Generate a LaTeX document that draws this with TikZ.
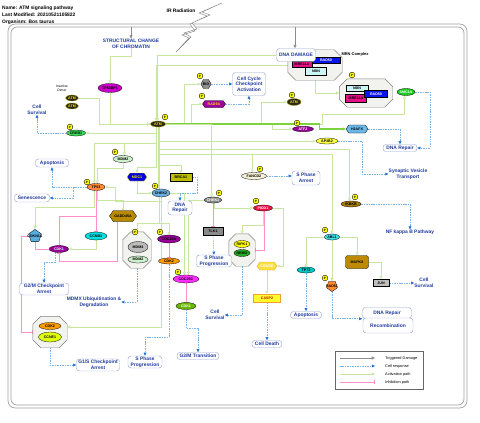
\documentclass[tikz,border=0pt]{standalone}
\usepackage{fontspec}
\setmainfont{Liberation Sans}
\usetikzlibrary{arrows.meta,shapes.geometric,shapes.symbols,backgrounds,positioning}

\definecolor{actgreen}{HTML}{C8E6A0}
\definecolor{actthick}{HTML}{7DD33F}
\definecolor{inhpink}{HTML}{FF8FCF}
\definecolor{rspblue}{HTML}{7AB4E8}
\definecolor{rsptip}{HTML}{1F6FD0}
\definecolor{triggray}{HTML}{8C8C8C}
\definecolor{respedge}{HTML}{9AA8D0}
\definecolor{resptext}{HTML}{1E3A9A}
\definecolor{cplxfill}{HTML}{F2F2EE}
\definecolor{phosyellow}{HTML}{FFFF00}
\definecolor{framegray}{HTML}{A0A0A0}
\definecolor{tpbp}{HTML}{CC00CC}
\definecolor{atmdark}{HTML}{2B2B14}
\definecolor{atmtext}{HTML}{F2E200}
\definecolor{crebgreen}{HTML}{3CDC5A}
\definecolor{bidgray}{HTML}{8E8E8E}
\definecolor{radpurple}{HTML}{A000A0}
\definecolor{atfpurple}{HTML}{990099}
\definecolor{mrepink}{HTML}{E8108A}
\definecolor{radblue}{HTML}{0A14EE}
\definecolor{nbncyan}{HTML}{CCF5F5}
\definecolor{smcgreen}{HTML}{1ECC1E}
\definecolor{h2ablue}{HTML}{6BB8E8}
\definecolor{apyellow}{HTML}{FFFF40}
\definecolor{ikbrown}{HTML}{A87A00}
\definecolor{ablcyan}{HTML}{3EE0E8}
\definecolor{mapkbrown}{HTML}{BE8A00}
\definecolor{jungray}{HTML}{BEBEBE}
\definecolor{radorange}{HTML}{FF8A30}
\definecolor{tpteal}{HTML}{00C8C8}
\definecolor{caspyellow}{HTML}{FFFF30}
\definecolor{casporange}{HTML}{F0A030}
\definecolor{craddyellow}{HTML}{F8E040}
\definecolor{piddred}{HTML}{EE1144}
\definecolor{nemogreen}{HTML}{22AA22}
\definecolor{chekgray}{HTML}{8A8A8A}
\definecolor{fancbeige}{HTML}{F5F0D5}
\definecolor{brcaolive}{HTML}{BDBD00}
\definecolor{cdcpurple}{HTML}{960096}
\definecolor{cdkorange}{HTML}{FF9A00}
\definecolor{cdcmagenta}{HTML}{FF2EFF}
\definecolor{cdkgreen}{HTML}{66B800}
\definecolor{mdmgray}{HTML}{BBBBBB}
\definecolor{mdmgreen}{HTML}{CDEFCD}
\definecolor{tporange}{HTML}{FF8A3A}
\definecolor{mdcblue}{HTML}{0000DD}
\definecolor{chekblue}{HTML}{6AAEDD}
\definecolor{gaddbrown}{HTML}{B88A00}
\definecolor{cdknblue}{HTML}{58AEE0}
\definecolor{ccnbcyan}{HTML}{00E0E0}
\definecolor{ccnelime}{HTML}{E0FF10}

\newcommand{\genefont}{\fontsize{3.1}{3.5}\selectfont\bfseries}
\newcommand{\respfont}{\fontsize{4.2}{4.8}\selectfont\bfseries}
\newcommand{\headfont}{\fontsize{4.2}{4.8}\selectfont\bfseries}
% octagon outline round a complex node
\newcommand{\cplxoct}[2]{\draw[draw=gray,fill=cplxfill,line width=0.4pt]
  ([xshift=#2]#1.north west) -- ([xshift=-#2]#1.north east) -- ([yshift=-#2]#1.north east) -- ([yshift=#2]#1.south east)
  -- ([xshift=-#2]#1.south east) -- ([xshift=#2]#1.south west) -- ([yshift=#2]#1.south west) -- ([yshift=-#2]#1.north west) -- cycle;}

\begin{document}
\begin{tikzpicture}[x=0.03cm,y=-0.03cm]
      \tikzset{sz/.style 2 args={minimum width=#1*0.03cm,minimum height=#2*0.03cm}}
      \tikzset{gene/.style={draw=black,line width=0.25pt,inner sep=0pt,font=\genefont}}
      \tikzset{oval/.style={gene,ellipse}}
      \tikzset{box/.style={gene,rectangle}}
      \tikzset{hexa/.style={gene,signal,signal to=east and west,signal pointer angle=110}}
      \tikzset{penta/.style={gene,regular polygon,regular polygon sides=5}}
      \tikzset{cplx/.style={rectangle,inner sep=0pt}}
      \tikzset{phos/.style={circle,draw=black,fill=phosyellow,line width=0.3pt,inner sep=0pt,minimum size=0.17cm,font=\fontsize{2.6}{3}\selectfont\bfseries}}
      \tikzset{resp/.style={draw=respedge,fill=white,rounded corners=2.5pt,line width=0.4pt,font=\respfont,text=resptext,align=center,inner sep=0pt}}
      \tikzset{lbl/.style={font=\respfont,text=resptext,align=center,inner sep=0pt}}
      \tikzset{head/.style={font=\headfont,inner sep=0pt}}
      \tikzset{legtext/.style={font=\fontsize{3.3}{4}\selectfont,inner sep=0pt,anchor=west}}
      \tikzset{act/.style={draw=actgreen,line width=0.5pt,-{Triangle[open,length=2.6pt,width=2.6pt]}}}
      \tikzset{actbold/.style={act,draw=actthick,line width=0.9pt}}
      \tikzset{inh/.style={draw=inhpink,line width=0.6pt,-{Bar[width=3.4pt]}}}
      \tikzset{rsp/.style={draw=rspblue,line width=0.45pt,dash pattern=on 1.3pt off 0.8pt,-{Triangle[length=2.6pt,width=2.4pt,color=rsptip]}}}
      \tikzset{trig/.style={draw=triggray,line width=0.5pt,-{Triangle[length=2.8pt,width=2.6pt,color=triggray]}}}

      \useasboundingbox (0,0) rectangle (480,422);

      % header
      \node[head,anchor=west] (name) at (2,8) {Name: ATM signaling pathway};
      \node[head,anchor=west] (modified) at (2,15) {Last Modified: 20210521105822};
      \node[head,anchor=west] (organism) at (2,22) {Organism: Bos taurus};
      \node[head] (irrad) at (181,11) {IR Radiation};
      \coordinate (trigA) at (131,27);
      \coordinate (trigB) at (295,27);

      % complexes
      \node[cplx,sz={54}{30}] (mrnA) at (315,65) {};
      \cplxoct{mrnA}{0.24cm}
      \node[box,sz={28}{6},fill=radblue,text=white] (radA) at (326,60) {RAD50};
      \node[box,sz={21}{8},fill=nbncyan] (nbnA) at (316,71) {NBN};
      \node[box,sz={20}{6},fill=mrepink] (mreA) at (302,64) {MRE11A};
      \node[head,font=\fontsize{3.4}{4}\selectfont\bfseries] (mrnlabel) at (355,54) {MRN Complex};
      \node[cplx,sz={53}{28}] (mrnB) at (366,93) {};
      \cplxoct{mrnB}{0.24cm}
      \node[box,sz={22}{6},fill=nbncyan] (nbnB) at (357,88) {NBN};
      \node[box,sz={21}{8},fill=mrepink] (mreB) at (356,98) {MRE11A};
      \node[box,sz={23}{7},fill=radblue,text=white] (radB) at (376,94) {RAD50};
      \node[cplx,sz={28}{36}] (mdmcplx) at (137,250) {};
      \cplxoct{mdmcplx}{0.24cm}
      \node[oval,sz={20}{11},fill=mdmgray] (mdm4) at (138,247) {MDM4};
      \node[oval,sz={20}{7},fill=mdmgreen] (mdm2b) at (138,259.5) {MDM2};
      \node[cplx,sz={26}{32}] (ripkcplx) at (242,250) {};
      \cplxoct{ripkcplx}{0.21cm}
      \node[oval,sz={16}{7},fill=phosyellow] (ripk1) at (242,244) {RIPK1};
      \node[oval,sz={16}{7},fill=nemogreen] (nemo) at (242,253) {NEMO};
      \node[cplx,sz={34}{31}] (cdk2cplx) at (50,332) {};
      \cplxoct{cdk2cplx}{0.24cm}
      \node[oval,sz={22}{7},fill=cdkorange] (cdk2b) at (50,326) {CDK2};
      \node[oval,sz={23}{10},fill=ccnelime] (ccne1) at (50,337) {CCNE1};

      % responses
      \node[lbl,font=\fontsize{4.2}{4.9}\selectfont\bfseries] (chromatin) at (131,43.5) {STRUCTURAL CHANGE\\OF CHROMATIN};
      \node[resp,sz={39}{13}] (dnadamage) at (296,55) {DNA DAMAGE};
      \node[resp,sz={33}{23}] (cellcycle) at (249,84) {Cell Cycle\\Checkpoint\\Activation};
      \node[lbl] (survivalA) at (37,110) {Cell\\Survival};
      \node[resp,sz={33}{8}] (apoptosisA) at (52,163) {Apoptosis};
      \node[resp,sz={35}{8}] (senescence) at (32,198) {Senescence};
      \node[resp,sz={24}{14}] (dnarepairA) at (180,208) {DNA\\Repair};
      \node[resp,sz={28}{14}] (sarrest) at (306,178) {S Phase\\Arrest};
      \node[resp,sz={34}{7}] (dnarepairB) at (400,148) {DNA Repair};
      \node[lbl] (synaptic) at (408,174) {Synaptic Vesicle\\Transport};
      \node[lbl] (nfkb) at (410,232) {NF kappa B Pathway};
      \node[resp,sz={35}{12}] (sprogA) at (214,261) {S Phase\\Progression};
      \node[lbl] (survivalB) at (215,315) {Cell\\Survival};
      \node[resp,sz={30}{7}] (celldeath) at (267,344) {Cell Death};
      \node[resp,sz={31}{7}] (apoptosisB) at (306,315) {Apoptosis};
      \node[resp,sz={49}{11}] (dnarepairC) at (387,313) {DNA Repair};
      \node[resp,sz={50}{15}] (recomb) at (388,325.5) {Recombination};
      \node[lbl] (survivalC) at (424,283) {Cell\\Survival};
      \node[resp,sz={49}{12}] (gtwomarrest) at (44,289) {G2/M Checkpoint\\Arrest};
      \node[lbl] (mdmx) at (94,302) {MDMX Ubiquitination \&\\Degradation};
      \node[resp,sz={43}{12}] (gonesarrest) at (98,365) {G1/S Checkpoint\\Arrest};
      \node[resp,sz={34}{12}] (sprogB) at (145,362) {S Phase\\Progression};
      \node[resp,sz={42}{7}] (gtwomtrans) at (198,356) {G2/M Transition};

      % genes
      \node[oval,sz={24}{9},fill=tpbp] (tp53bp1) at (110,88) {TP53BP1};
      \node[inner sep=0pt,align=center,font=\fontsize{2.9}{3.3}\selectfont] (inactive) at (62,88) {Inactive\\Dimer};
      \node[oval,sz={13}{6},fill=atmdark,draw=atmtext!70!black,text=atmtext] (atmA) at (72,98) {ATM};
      \node[oval,sz={13}{6},fill=atmdark,draw=atmtext!70!black,text=atmtext] (atmB) at (72,106) {ATM};
      \node[oval,sz={15}{6},fill=atmdark,draw=atmtext!70!black,text=atmtext] (atm) at (158,124) {ATM};
      \node[oval,sz={19}{6},fill=crebgreen] (creb1) at (76,133) {CREB1};
      \node[gene,regular polygon,regular polygon sides=6,minimum size=0.3cm,fill=bidgray] (bid) at (206,84) {BID};
      \node[hexa,sz={23}{7},fill=radpurple,text=atmtext] (rad9a) at (214,104) {RAD9A};
      \node[oval,sz={14}{7},fill=atmdark,draw=atmtext!70!black,text=atmtext] (atmC) at (294,102) {ATM};
      \node[oval,sz={21}{5.5},fill=atfpurple,text=white] (atf2) at (303,129) {ATF2};
      \node[oval,sz={18}{7},fill=smcgreen,text=white] (smc1a) at (406,92) {SMC1A};
      \node[hexa,sz={22}{8},fill=h2ablue] (h2afx) at (357,129) {H2AFX};
      \node[oval,sz={22}{6},fill=apyellow] (ap3b2) at (327,141) {AP3B2};
      \node[oval,sz={20}{6},fill=ikbrown] (ikbkb) at (351,204) {IKBKB};
      \node[oval,sz={15}{6},fill=ablcyan] (abl1) at (332,237) {ABL1};
      \node[box,rounded corners=2pt,sz={23}{13},fill=mapkbrown] (mapk8) at (357,262) {MAPK8};
      \node[box,sz={16}{7},fill=jungray] (jun) at (381,283) {JUN};
      \node[penta,minimum size=0.34cm,shape border rotate=180,fill=radorange,label={[font=\genefont]center:RAD51}] (rad51) at (332,286) {};
      \node[oval,sz={18}{6},fill=tpteal] (tp73) at (306,270) {TP73};
      \node[box,sz={27}{8},fill=caspyellow,draw=casporange,text=red!80!black] (casp2) at (267,298) {CASP2};
      \node[hexa,sz={20}{8},fill=craddyellow,draw=casporange,text=white] (cradd) at (267,266) {CRADD};
      \node[oval,sz={19}{6},fill=piddred,text=white] (pidd1) at (263,208) {PIDD1};
      \node[oval,sz={17}{6},fill=chekgray,text=white] (chek1) at (213,200) {CHEK1};
      \node[box,sz={20}{8},fill=chekgray] (tlk1) at (213,231) {TLK1};
      \node[oval,sz={25}{7},fill=fancbeige] (fancd2) at (254,176) {FANCD2};
      \node[box,sz={22}{8},fill=brcaolive] (brca1) at (181,177) {BRCA1};
      \node[oval,sz={20}{7},fill=mdmgreen] (mdm2) at (123,159) {MDM2};
      \node[oval,sz={18}{7},fill=tporange] (tp53) at (96,187) {TP53};
      \node[hexa,sz={20}{8},fill=mdcblue,draw=atmtext,text=atmtext] (mdc1) at (137,177) {MDC1};
      \node[oval,sz={18}{8},fill=chekblue] (chek2) at (161,193) {CHEK2};
      \node[hexa,sz={27}{11},fill=gaddbrown] (gadd45a) at (123,216) {GADD45A};
      \node[penta,minimum size=0.4cm,fill=cdknblue,label={[font=\genefont]center:CDKN1A}] (cdkn1a) at (35,236) {};
      \node[oval,sz={22}{8},fill=ccnbcyan] (ccnb1) at (96,236) {CCNB1};
      \node[oval,sz={19}{7},fill=atfpurple,text=white] (cdk1a) at (59,249) {CDK1};
      \node[oval,sz={23}{8},fill=cdcpurple] (cdc25a) at (169,239) {CDC25A};
      \node[oval,sz={21}{6},fill=cdkorange] (cdk2a) at (169,261) {CDK2};
      \node[oval,sz={26}{8},fill=cdcmagenta] (cdc25c) at (186,279) {CDC25C};
      \node[oval,sz={20}{7},fill=cdkgreen,text=white] (cdk1b) at (186,306) {CDK1};

      % phosphorylation marks
      \node[phos] (patm) at (165,117) {P};
      \node[phos] (pcreb1) at (70,127) {P};
      \node[phos] (pbid) at (200,76) {P};
      \node[phos] (prad9a) at (202,96) {P};
      \node[phos] (patmC) at (292,95) {P};
      \node[phos] (patf2) at (297,123) {P};
      \node[phos] (pmrnB) at (352,75) {P};
      \node[phos] (pmdm2) at (115,152) {P};
      \node[phos] (ptp53) at (87,182) {P};
      \node[phos] (pchek2) at (155,186) {P};
      \node[phos] (pmdmcplx) at (135,232) {P};
      \node[phos] (pcdc25a) at (160,232) {P};
      \node[phos] (pcdc25c) at (178,272) {P};
      \node[phos] (pchek1) at (219,193) {P};
      \node[phos] (ppidd1) at (256,201) {P};
      \node[phos] (pfancd2) at (260,169) {P};
      \node[phos] (pikbkb) at (355,197) {P};
      \node[phos] (pabl1) at (325,230) {P};
      \node[phos] (prad51) at (325,278) {P};

      % legend
      \node[draw=gray!80!black,line width=0.4pt,fill=white,sz={88}{38},inner sep=0pt] (legend) at (379,370) {};
      \coordinate (lgA1) at (340,358); \coordinate (lgA2) at (375,358);
      \coordinate (lgB1) at (340,366); \coordinate (lgB2) at (375,366);
      \coordinate (lgC1) at (340,374); \coordinate (lgC2) at (375,374);
      \coordinate (lgD1) at (340,382); \coordinate (lgD2) at (375,382);
      \node[legtext] (lgtA) at (385,358) {Triggered Damage};
      \node[legtext] (lgtB) at (385,366) {Cell response};
      \node[legtext] (lgtC) at (385,374) {Activation path};
      \node[legtext] (lgtD) at (385,382) {Inhibition path};
      \draw[trig] (lgA1) -- (lgA2);
      \draw[rsp] (lgB1) -- (lgB2);
      \draw[act] (lgC1) -- (lgC2);
      \draw[inh] (lgD1) -- (lgD2);

      \begin{scope}[on background layer]
      % frame and bolt
      \draw[framegray,line width=0.6pt,rounded corners=2.2mm] (8,24) rectangle (467,408);
      \draw[framegray,line width=0.6pt,rounded corners=1.8mm] (11,27) rectangle (464,405);
      \draw[gray,line width=0.35pt,fill=white] (222,3) -- (202,12) -- (210,15) -- (192,23) -- (197,29) -- (184,33) -- (191,37) -- (176,52)
        -- (189,38) -- (182,35) -- (195,31) -- (190,24) -- (207,16) -- (199,13) -- cycle;

      % triggered damage
      \draw[trig] (trigA) -- (trigA |- chromatin.north);
      \draw[trig] (trigB) -- (trigB |- dnadamage.north);

      % activation
      \draw[act] (chromatin.south) -- ++(0,8) -| (tp53bp1.north);
      \draw[act] (atmA.east) -- ++(21,0) |- (atm.west);
      \draw[act] (tp53bp1.south) |- (atm.west);
      \draw[act] (dnadamage.west) -| (atm.95);
      \draw[act] (mrnA.west) -| (atm.125);
      \draw[act] (atm.east) -- ++(19,0) |- (bid.west);
      \draw[act] (atm.east) -- ++(26,0) |- (rad9a.west);
      \draw[act] (atm.east) -- ++(96,0) |- (atmC.west);
      \draw[act] (atm.east) -- ++(107,0) |- (atf2.west);
      \draw[act] (atm.east) -- ++(157,0) -- ++(0,-10) -| (smc1a.250);
      \draw[actbold] (atm.east) -- ++(154,0) |- (h2afx.west);
      \draw[act] (mrnA.south) |- (mrnB.west);
      \draw[act] (atm.235) |- (creb1.east);
      \draw[act] (atm.235) -- ++(0,16) -| (tp53.115);
      \draw[act] (atm.235) -- ++(0,16) -| (mdm2.70);
      \draw[act] (atm.235) -- ++(0,40) -| (mdc1.north);
      \draw[act] (mdm2.south) -- ++(0,6) -| (tp53.70);
      \draw[act] (mdc1.south) |- (chek2.west);
      \draw[act] (atm.south) -- (atm.south |- chek2.north);
      \draw[act] (chek2.south) |- (115,201) |- (tp53.east);
      \draw[act] (atm.300) -- ++(0,96) -| (mdmcplx.north);
      \draw[act] (atm.300) -- ++(0,96) -| (cdc25a.north);
      \draw[act] (chek2.south) |- ([yshift=0.15cm]cdk2cplx.east);
      \draw[act] (atm.290) -- ++(0,38) -| (brca1.north);
      \draw[act] (atm.290) -- ++(0,27) -| (fancd2.115);
      \draw[act] (atm.290) -- ++(0,27) -| (abl1.north);
      \draw[act] (atm.290) -- ++(0,22) -| (ikbkb.115);
      \draw[act] (atm.290) |- (ap3b2.west);
      \draw[act] (atm.east) -| (chek1.115);
      \draw[act] (chek2.east) -| (cdc25c.110);
      \draw[act] (chek1.west) -| (cdc25c.60);
      \draw[act,-{Circle[open,length=2.4pt]}] (tp53.290) -- ++(0,10) -| (gadd45a.north);
      \draw[act] (tp53.250) -- ++(0,17) -| (cdkn1a.north);
      \draw[act] (ccnb1.south) |- (cdk1a.east);
      \draw[act] (chek1.300) |- (pidd1.west);
      \draw[act] (pidd1.south) -- ++(0,14) -| (ripkcplx.north);
      \draw[act] (pidd1.east) -- ++(11,0) |- (cradd.east);
      \draw[act] (cradd.south) -- (casp2.north);
      \draw[act] (abl1.east) -| (mapk8.north);
      \draw[act] (abl1.west) -| (tp73.north);
      \draw[act] (abl1.south) -- (rad51.north);
      \draw[act] (mapk8.east) -| (jun.north);

      % inhibition
      \draw[inh] (tp53.south) -- (ccnb1.north);
      \draw[inh] (tp53.south) -- ++(0,26) -| (cdk1a.north);
      \draw[inh] (cdkn1a.south) |- (cdk1a.west);
      \draw[inh] (cdkn1a.west) -- ++(-8,0) |- (cdk2cplx.west);
      \draw[inh] ([xshift=-0.18cm]gadd45a.south) -- ++(0,40) -| (cdk1a.south);
      \draw[inh] (cdc25a.south) -- (cdk2a.north);
      \draw[inh] (cdc25c.south) -- (cdk1b.north);
      \draw[inh] (chek1.south) -- (tlk1.north);
      \draw[inh] (pidd1.300) |- (ripkcplx.east);

      % cell response
      \draw[rsp] (creb1.west) -| (survivalA.south);
      \draw[rsp] (bid.east) -- (cellcycle.west);
      \draw[rsp] (rad9a.east) -| (cellcycle.south);
      \draw[rsp] (smc1a.east) -- ++(15,0) |- (dnarepairB.east);
      \draw[rsp] (h2afx.east) -| (dnarepairB.north);
      \draw[rsp] (ap3b2.east) -- ++(24,0) |- (synaptic.west);
      \draw[rsp] (ikbkb.east) -| (nfkb.north);
      \draw[rsp] (fancd2.east) -- (sarrest.west |- fancd2.east);
      \draw[rsp] (brca1.east) -- ++(5,0) -- ++(0,16) -| (dnarepairA.north);
      \draw[rsp] (tlk1.south) -- (sprogA.north);
      \draw[rsp] (ripkcplx.south) |- (survivalB.east);
      \draw[rsp] (casp2.south) -- (celldeath.north);
      \draw[rsp] (tp73.south) -- (apoptosisB.north);
      \draw[rsp] (rad51.south) |- (dnarepairC.south west);
      \draw[rsp] (jun.east) -- (survivalC.west);
      \draw[rsp] (tp53.west) -| (apoptosisA.south);
      \draw[rsp] (tp53.west) -- ++(-14,0) |- (senescence.east);
      \draw[rsp] (cdk1a.220) -- ++(0,10) -| (gtwomarrest.north);
      \draw[rsp] (mdmcplx.south) |- (mdmx.east);
      \draw[rsp] (cdk2a.south) -- ++(0,73) -| (sprogB.north);
      \draw[rsp] (cdk1b.south) -- ++(0,19) -| (gtwomtrans.north);
      \draw[rsp] (cdk2cplx.south) |- (gonesarrest.west);
      \end{scope}
\end{tikzpicture}
\end{document}
